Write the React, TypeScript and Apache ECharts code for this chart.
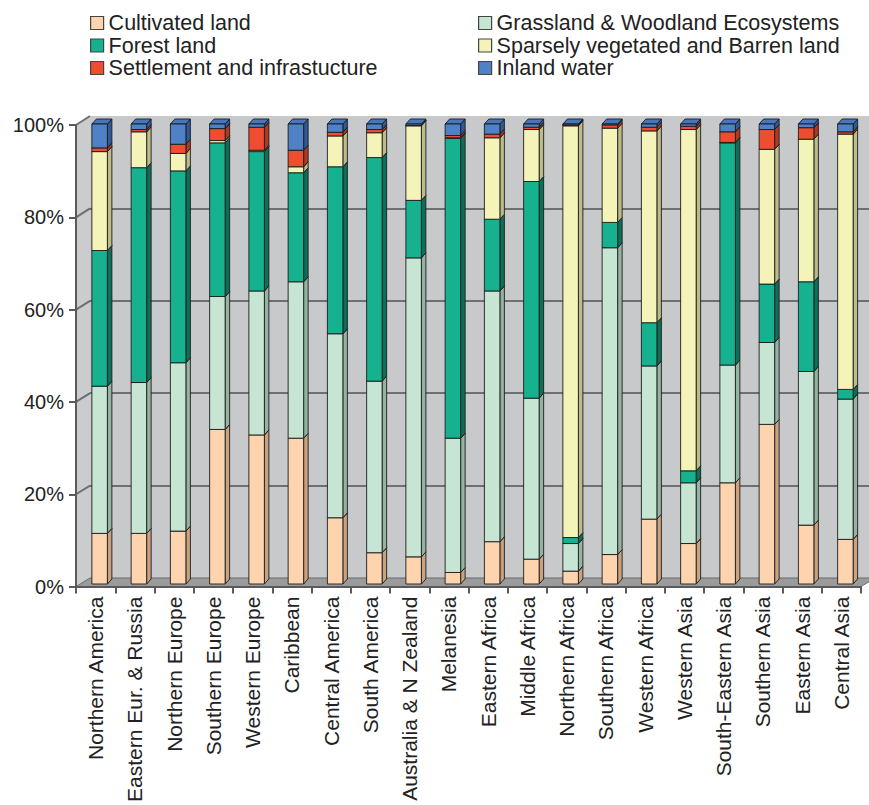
import React, { useEffect, useRef } from "react";
import * as echarts from "echarts";

const categories = [
  "Northern America", "Eastern Eur. & Russia", "Northern Europe", "Southern Europe",
  "Western Europe", "Caribbean", "Central America", "South America",
  "Australia & N Zealand", "Melanesia", "Eastern Africa", "Middle Africa",
  "Northern Africa", "Southern Africa", "Western Africa", "Western Asia",
  "South-Eastern Asia", "Southern Asia", "Eastern Asia", "Central Asia",
];

const cultivated = [11, 11, 11.5, 33.6, 32.4, 31.7, 14.4, 6.8, 5.9, 2.5, 9.2, 5.4, 2.8, 6.4, 14.1, 8.8, 22, 34.7, 12.8, 9.7];
const grassland = [32, 32.8, 36.6, 28.9, 31.3, 34, 40, 37.3, 65, 29.2, 54.5, 35, 6, 66.7, 33.3, 13.2, 25.6, 17.8, 33.4, 30.5];
const forest = [29.5, 46.7, 41.7, 33.4, 30.3, 23.7, 36.3, 48.6, 12.5, 65.2, 15.6, 47.1, 1.3, 5.5, 9.4, 2.6, 48.3, 12.7, 19.5, 2.1];
const sparse = [21.5, 7.8, 3.8, 0.5, 0.3, 1.3, 6.7, 5.4, 16.2, 0.1, 17.7, 11.3, 89.5, 20.5, 41.7, 74.2, 0.1, 29.3, 31, 55.5];
const settlement = [0.8, 0.5, 2, 2.6, 5, 3.6, 0.8, 0.7, 0.1, 0.5, 0.8, 0.5, 0.2, 0.7, 0.8, 0.7, 2.3, 4.3, 2.5, 0.5];
const water = [5.2, 1.2, 4.4, 1.0, 0.7, 5.7, 1.8, 1.2, 0.3, 2.5, 2.2, 0.7, 0.2, 0.2, 0.7, 0.5, 1.7, 1.2, 0.8, 1.7];

const seriesNames = [
  "Cultivated land",
  "Grassland & Woodland Ecosystems",
  "Forest land",
  "Sparsely vegetated and Barren land",
  "Settlement and infrastucture",
  "Inland water",
];
const seriesValues = [cultivated, grassland, forest, sparse, settlement, water];
const yTicks = [0, 20, 40, 60, 80, 100];

const FRONT = ["#fdd4ad", "#c7e5d3", "#16b18f", "#f5f4b8", "#ef4d30", "#4f81c6"];
const SIDE = ["#c9a27f", "#94b4a1", "#0c6f59", "#bdbb8a", "#b23822", "#2f5998"];
const TOP = ["#f1c69d", "#b7d6c3", "#13a283", "#e8e7a9", "#e2452a", "#4677bc"];

const FONT = "'Liberation Sans', Arial, Helvetica, sans-serif";

const W = 15.5;
const DX = 4.5;
const DY = -5;

function makeRender(k: number) {
  return (params: any, api: any) => {
    const ci = api.value(0);
    const b = api.value(1);
    const t = api.value(2);
    const pb = api.coord([ci, b]);
    const pt = api.coord([ci, t]);
    const x0 = pb[0] - W / 2;
    const y0 = pb[1];
    const y1 = pt[1];
    const stroke = "#1c1c1c";
    const lw = 0.9;
    return {
      type: "group",
      children: [
        {
          type: "polygon",
          shape: { points: [[x0 + W, y1], [x0 + W + DX, y1 + DY], [x0 + W + DX, y0 + DY], [x0 + W, y0]] },
          style: { fill: SIDE[k], stroke, lineWidth: lw },
        },
        {
          type: "polygon",
          shape: { points: [[x0, y1], [x0 + DX, y1 + DY], [x0 + W + DX, y1 + DY], [x0 + W, y1]] },
          style: { fill: TOP[k], stroke, lineWidth: lw },
        },
        {
          type: "rect",
          shape: { x: x0, y: y1, width: W, height: y0 - y1 },
          style: { fill: FRONT[k], stroke, lineWidth: lw },
        },
      ],
    };
  };
}

export default function App() {
  const ref = useRef<HTMLDivElement>(null);

  useEffect(() => {
    document.body.style.margin = "0";
    if (!ref.current) return;
    const chart = echarts.init(ref.current, undefined, { renderer: "svg" });

    const cum = categories.map(() => 0);
    const series = seriesValues.map((vals, k) => {
      const data = vals.map((v, i) => {
        const b = cum[i];
        cum[i] = b + v;
        return [i, b, cum[i]];
      });
      return {
        type: "custom",
        name: seriesNames[k],
        xAxisIndex: 2,
        yAxisIndex: 2,
        z: 2,
        itemStyle: { color: FRONT[k], borderColor: "#333", borderWidth: 1 },
        encode: { x: 0, y: [1, 2] },
        renderItem: makeRender(k),
        data,
      };
    });

    const legendCommon = {
      orient: "vertical",
      top: 7,
      icon: "rect",
      itemWidth: 13,
      itemHeight: 13,
      itemGap: 0.5,
      selectedMode: false,
      itemStyle: { borderColor: "#444", borderWidth: 1.2 },
      textStyle: { fontFamily: FONT, fontSize: 21.5, color: "#222", lineHeight: 20 },
    };

    chart.setOption({
      animation: false,
      backgroundColor: "#ffffff",
      legend: [
        { ...legendCommon, left: 85, data: [seriesNames[0], seriesNames[2], seriesNames[4]] },
        { ...legendCommon, left: 473, data: [seriesNames[1], seriesNames[3], seriesNames[5]] },
      ],
      grid: [
        { left: 76, right: 8, top: 125, bottom: 217 },
        { left: 90, right: 0, top: 116, bottom: 227, show: true, backgroundColor: "#c8c9cb", borderWidth: 0 },
        { left: 80, right: 4, top: 124, bottom: 221 },
      ],
      xAxis: [
        {
          gridIndex: 0,
          type: "category",
          data: categories,
          z: 3,
          axisLine: { lineStyle: { color: "#5a5a5a", width: 2 } },
          axisTick: { show: true, length: 7, lineStyle: { color: "#5a5a5a", width: 2 } },
          axisLabel: { rotate: 90, fontFamily: FONT, fontSize: 21, color: "#222", margin: 10, interval: 0 },
        },
        { gridIndex: 1, type: "category", data: categories, show: false },
        { gridIndex: 2, type: "category", data: categories, show: false },
      ],
      yAxis: [
        {
          gridIndex: 0,
          type: "value",
          min: 0,
          max: 100,
          interval: 20,
          z: 3,
          axisLine: { show: true, lineStyle: { color: "#5a5a5a", width: 2 } },
          axisTick: { show: true, length: 7, lineStyle: { color: "#5a5a5a", width: 2 } },
          axisLabel: { formatter: "{value}%", fontFamily: FONT, fontSize: 20, color: "#222", margin: 12 },
          splitLine: { show: false },
        },
        {
          gridIndex: 1,
          type: "value",
          min: 0,
          max: 100,
          interval: 20,
          axisLine: { show: false },
          axisTick: { show: false },
          axisLabel: { show: false },
          splitLine: { show: true, showMinLine: false, showMaxLine: false, lineStyle: { color: "#6e6f71", width: 2 } },
        },
        { gridIndex: 2, type: "value", min: 0, max: 100, show: false },
      ],
      series,
    });

    // 3D frame decorations derived from the axes' pixel positions
    const yPix = (v: number) => chart.convertToPixel({ yAxisIndex: 0 }, v) as number;
    const yBack = (v: number) => chart.convertToPixel({ yAxisIndex: 1 }, v) as number;
    const xFrontL = 76;
    const xBackL = 90;
    const xFrontR = 861;
    const xBackR = 875;
    const graphic: any[] = [
      {
        type: "polygon",
        z: 1,
        shape: { points: [[xFrontL, yPix(100)], [xBackL, yBack(100)], [xBackL, yBack(0)], [xFrontL, yPix(0)]] },
        style: { fill: "#cbcccd" },
      },
      {
        type: "polygon",
        z: 1,
        shape: { points: [[xFrontL, yPix(0)], [xFrontR, yPix(0)], [xBackR, yBack(0)], [xBackL, yBack(0)]] },
        style: { fill: "#9a9b9d", stroke: "#6a6b6d", lineWidth: 1 },
      },
    ];
    yTicks.forEach((v) => {
      if (v === 0) return;
      graphic.push({
        type: "line",
        z: 1,
        shape: { x1: xFrontL, y1: yPix(v), x2: xBackL, y2: yBack(v) },
        style: { stroke: "#6e6f71", lineWidth: 2 },
      });
    });
    chart.setOption({ graphic });

    return () => chart.dispose();
  }, []);

  return <div ref={ref} style={{ width: 869, height: 805 }} />;
}
